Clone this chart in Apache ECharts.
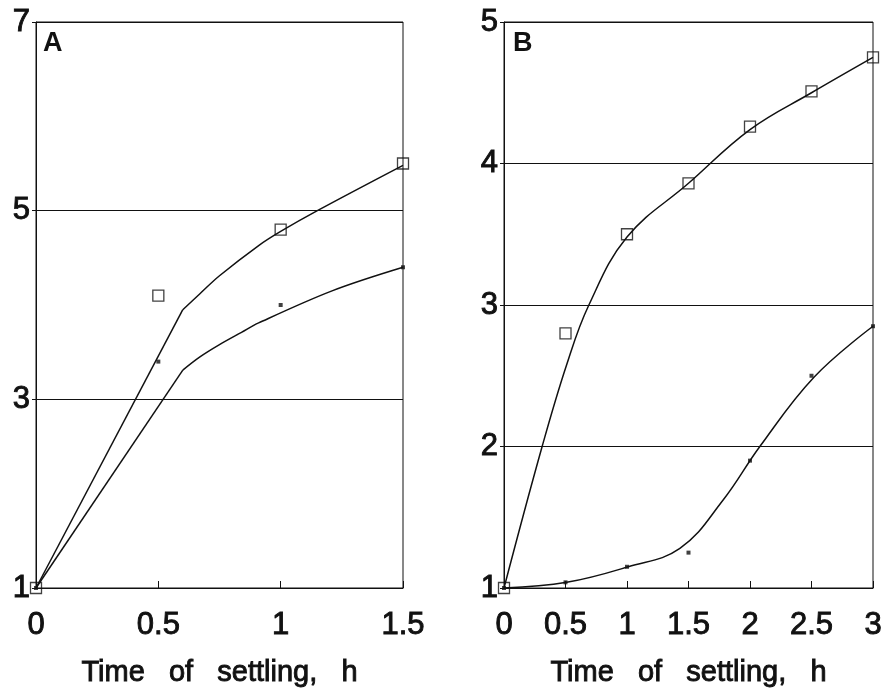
<!DOCTYPE html>
<html>
<head>
<meta charset="utf-8">
<script src="https://cdn.jsdelivr.net/npm/echarts@6/dist/echarts.min.js"></script>
<style>
  html, body { margin: 0; padding: 0; background: #fff; }
  #chart { width: 886px; height: 688px; }
</style>
</head>
<body>
<div id="chart"></div>
<script>
// panel A
const timeA = [0, 0.5, 1, 1.5];
const squaresA = [1, 4.1, 4.8, 5.5];
const dotsA = [1, 3.4, 4.0, 4.4];
// fitted curves: straight rise to the knee at 0.6, then a smooth bend
const fitSqXA = [0, 0.6, 0.67, 0.75, 0.91, 1.0, 1.15, 1.5];
const fitSqYA = [1, 3.95, 4.12, 4.31, 4.63, 4.78, 5.0, 5.48];
const fitDotXA = [0, 0.6, 0.67, 0.75, 0.84, 0.91, 1.21, 1.5];
const fitDotYA = [1, 3.31, 3.45, 3.58, 3.71, 3.81, 4.15, 4.4];

// panel B
const timeB = [0, 0.5, 1, 1.5, 2, 2.5, 3];
const squaresB = [1, 2.8, 3.5, 3.86, 4.26, 4.51, 4.75];
const dotsB = [1, 1.04, 1.15, 1.25, 1.9, 2.5, 2.85];
const fitSqXB = [0, 0.31, 0.51, 0.69, 1.0, 1.5, 2.0, 2.5, 3];
const fitSqYB = [1, 2.0, 2.58, 3.0, 3.48, 3.86, 4.24, 4.5, 4.75];
const fitDotXB = [0, 0.51, 1.01, 1.43, 1.78, 2.08, 2.52, 3];
const fitDotYB = [1, 1.04, 1.15, 1.28, 1.62, 2.0, 2.49, 2.85];

const xTitle = 'Time   of   settling,   h';
const font = "'Liberation Sans', Arial, sans-serif";
const ink = '#111';

const pairs = (xs, ys) => xs.map((x, i) => [x, ys[i]]);

const heavyText = { fontFamily: font, color: ink, textBorderColor: ink, textBorderWidth: 0.9 };

const xAxisBase = (idx, max) => ({
  gridIndex: idx,
  type: 'value',
  min: 0,
  max: max,
  interval: 0.5,
  name: xTitle,
  nameLocation: 'middle',
  nameGap: 70,
  nameTextStyle: { ...heavyText, fontSize: 29 },
  axisLine: { show: true, lineStyle: { color: ink, width: 1 } },
  axisTick: { show: true, inside: true, length: 7, lineStyle: { color: ink } },
  axisLabel: { ...heavyText, fontSize: 31, margin: 22 },
  splitLine: { show: false }
});

const yAxisBase = (idx, min, max, interval) => ({
  gridIndex: idx,
  type: 'value',
  min: min,
  max: max,
  interval: interval,
  axisLine: { show: true, lineStyle: { color: ink, width: 1 } },
  axisTick: { show: true, length: 4, lineStyle: { color: ink } },
  axisLabel: { ...heavyText, fontSize: 31, margin: 6 },
  splitLine: { show: true, lineStyle: { color: ink, width: 1 } }
});

const fitLine = (idx, data, smooth) => ({
  type: 'line',
  xAxisIndex: idx,
  yAxisIndex: idx,
  data: data,
  showSymbol: false,
  smooth: smooth,
  lineStyle: { color: ink, width: 1.5 },
  z: 2
});

const squareSeries = (idx, data) => ({
  type: 'scatter',
  xAxisIndex: idx,
  yAxisIndex: idx,
  data: data,
  symbol: 'rect',
  symbolSize: 11,
  itemStyle: { color: 'rgba(0,0,0,0)', borderColor: ink, borderWidth: 1.3 },
  z: 3
});

const dotSeries = (idx, data) => ({
  type: 'scatter',
  xAxisIndex: idx,
  yAxisIndex: idx,
  data: data,
  symbol: 'rect',
  symbolSize: 4,
  itemStyle: { color: ink },
  z: 4
});

const sqA = pairs(fitSqXA, fitSqYA);
const dotA = pairs(fitDotXA, fitDotYA);

const chart = echarts.init(document.getElementById('chart'));
chart.setOption({
  backgroundColor: '#fff',
  animation: false,
  grid: [
    { left: 36, right: 483, top: 22, bottom: 100, outerBoundsMode: 'none', show: true, borderColor: ink, borderWidth: 1 },
    { left: 504, right: 13, top: 22, bottom: 100, outerBoundsMode: 'none', show: true, borderColor: ink, borderWidth: 1 }
  ],
  xAxis: [xAxisBase(0, 1.5), xAxisBase(1, 3)],
  yAxis: [yAxisBase(0, 1, 7, 2), yAxisBase(1, 1, 5, 1)],
  graphic: [
    { type: 'text', left: 43, top: 30, style: { text: 'A', font: 'bold 27px ' + font, fill: ink } },
    { type: 'text', left: 513, top: 30, style: { text: 'B', font: 'bold 27px ' + font, fill: ink } }
  ],
  series: [
    fitLine(0, sqA.slice(0, 2), false),
    fitLine(0, sqA.slice(1), 0.35),
    fitLine(0, dotA.slice(0, 2), false),
    fitLine(0, dotA.slice(1), 0.35),
    squareSeries(0, pairs(timeA, squaresA)),
    dotSeries(0, pairs(timeA, dotsA)),
    fitLine(1, pairs(fitSqXB, fitSqYB), 0.4),
    fitLine(1, pairs(fitDotXB, fitDotYB), 0.4),
    squareSeries(1, pairs(timeB, squaresB)),
    dotSeries(1, pairs(timeB, dotsB))
  ]
});
</script>
</body>
</html>
